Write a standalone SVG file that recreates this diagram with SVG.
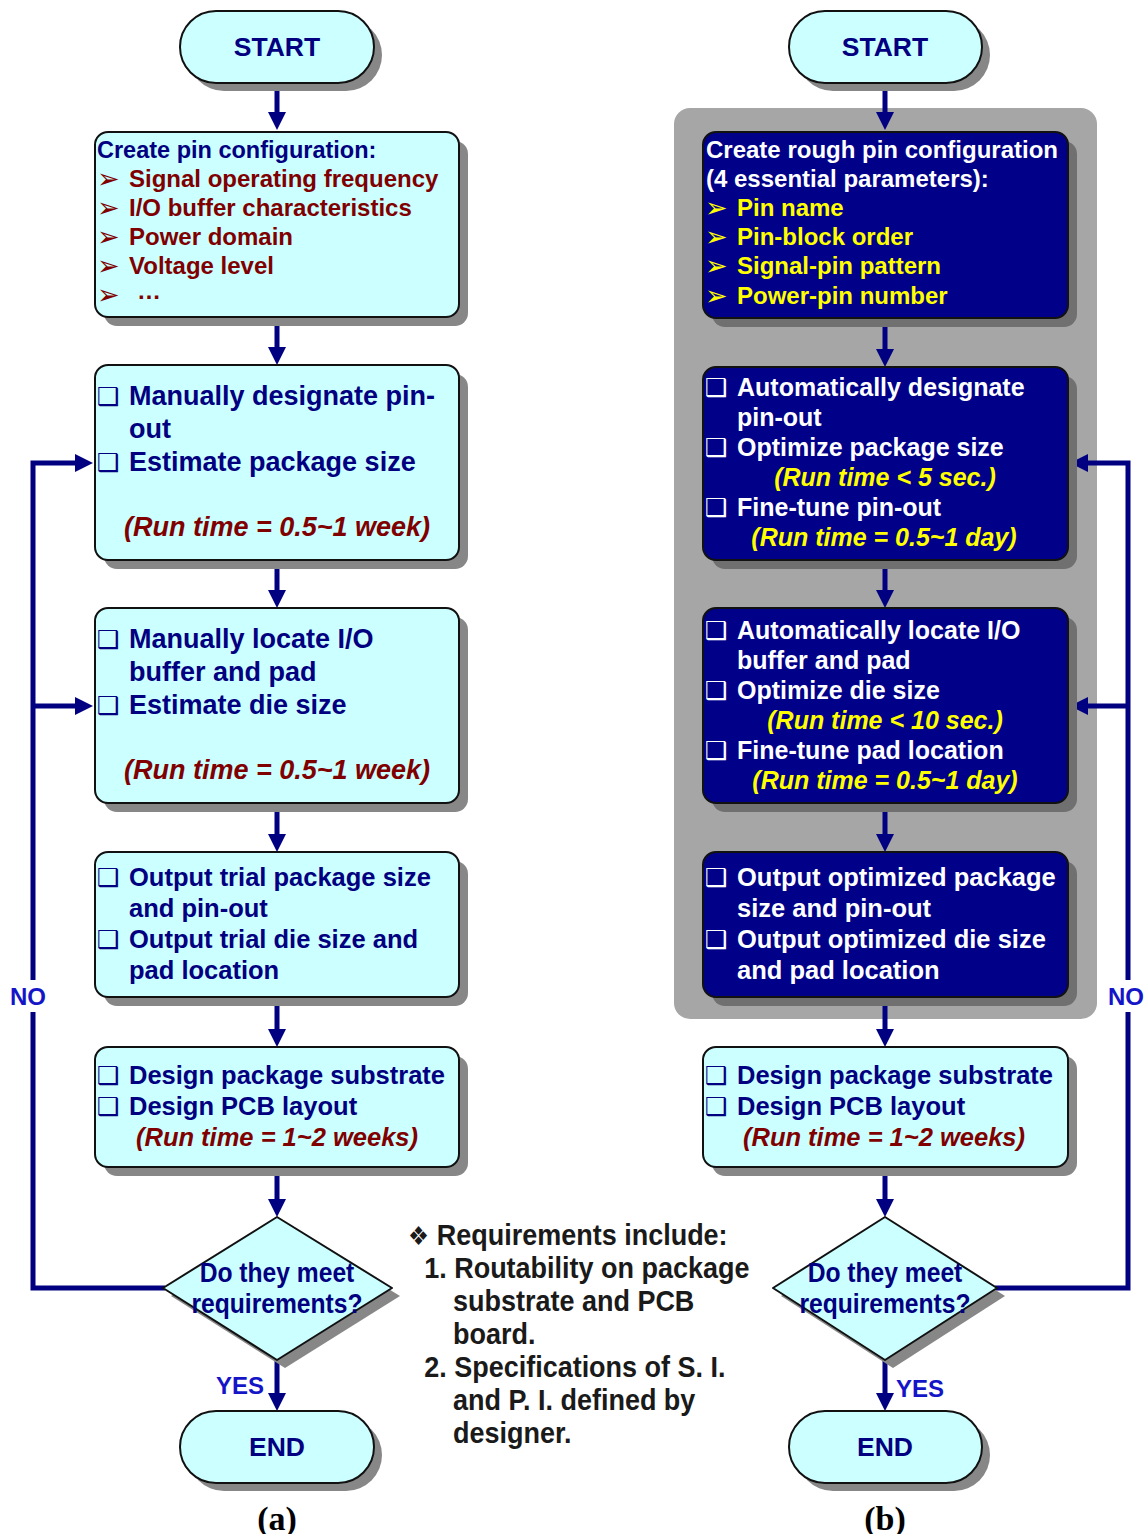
<svg xmlns="http://www.w3.org/2000/svg" width="1144" height="1534" viewBox="0 0 1144 1534">
<style>
.lb{fill:#ccffff;stroke:#111;stroke-width:2}
.db{fill:#000088;stroke:#111;stroke-width:2}
.sh{fill:#878787}
.shd{fill:#707070}
.t{font-family:'Liberation Sans',Arial,sans-serif;font-weight:bold}
.nv{fill:#000080}
.rd{fill:#800000}
.it{font-style:italic}
.wh{fill:#ffffff}
.ye{fill:#ffff00}
.sym{font-family:'DejaVu Sans',sans-serif;font-weight:normal}
.cb{font-family:'DejaVu Sans',sans-serif;font-weight:bold}
.cn{stroke:#000080;stroke-width:5;fill:none}
.lbl{fill:#1515c8;font-size:24px}
.rq{fill:#1a1a1a}
</style>
<defs>
<marker id="ah" viewBox="0 0 18 18" refX="6" refY="9" markerWidth="18" markerHeight="18" markerUnits="userSpaceOnUse" orient="auto">
<path d="M0,0 L18,9 L0,18 z" fill="#000080"/>
</marker>
</defs>
<rect width="1144" height="1534" fill="#ffffff"/>

<!-- gray panel -->
<rect id="panel" x="674" y="108" width="423" height="911" rx="16" fill="#a6a6a6"/>

<!-- connectors -->
<g id="connectors">
<line class="cn" x1="277" y1="83" x2="277" y2="118" marker-end="url(#ah)"/>
<line class="cn" x1="277" y1="317" x2="277" y2="353" marker-end="url(#ah)"/>
<line class="cn" x1="277" y1="560" x2="277" y2="596" marker-end="url(#ah)"/>
<line class="cn" x1="277" y1="803" x2="277" y2="840" marker-end="url(#ah)"/>
<line class="cn" x1="277" y1="997" x2="277" y2="1035" marker-end="url(#ah)"/>
<line class="cn" x1="277" y1="1167" x2="277" y2="1205" marker-end="url(#ah)"/>
<line class="cn" x1="277" y1="1360" x2="277" y2="1399" marker-end="url(#ah)"/>
<line class="cn" x1="885" y1="83" x2="885" y2="118" marker-end="url(#ah)"/>
<line class="cn" x1="885" y1="318" x2="885" y2="355" marker-end="url(#ah)"/>
<line class="cn" x1="885" y1="560" x2="885" y2="596" marker-end="url(#ah)"/>
<line class="cn" x1="885" y1="803" x2="885" y2="840" marker-end="url(#ah)"/>
<line class="cn" x1="885" y1="997" x2="885" y2="1035" marker-end="url(#ah)"/>
<line class="cn" x1="885" y1="1167" x2="885" y2="1205" marker-end="url(#ah)"/>
<line class="cn" x1="885" y1="1360" x2="885" y2="1399" marker-end="url(#ah)"/>
<path class="cn" d="M165,1288 H33 V1012"/>
<path class="cn" d="M33,980 V463 H81" marker-end="url(#ah)"/>
<path class="cn" d="M33,706 H81" marker-end="url(#ah)"/>
<path class="cn" d="M995,1288 H1128 V1012"/>
<path class="cn" d="M1128,980 V463 H1082" marker-end="url(#ah)"/>
<path class="cn" d="M1128,706 H1082" marker-end="url(#ah)"/>
<text class="t lbl" x="28" y="1005" text-anchor="middle">NO</text>
<text class="t lbl" x="1126" y="1005" text-anchor="middle">NO</text>
<text class="t lbl" x="240" y="1394" text-anchor="middle">YES</text>
<text class="t lbl" x="920" y="1397" text-anchor="middle">YES</text>
</g>

<!-- LEFT COLUMN -->
<g id="startA">
<rect class="sh" x="188" y="19" width="194" height="72" rx="36"/>
<rect class="lb" x="180" y="11" width="194" height="72" rx="36"/>
<text class="t nv" x="277" y="56" font-size="26.5" text-anchor="middle">START</text>
</g>

<g id="a1">
<rect class="sh" x="104" y="141" width="364" height="185" rx="13"/>
<rect class="lb" x="95" y="132" width="364" height="185" rx="13"/>
<text class="t nv" x="97" y="158" font-size="23.5">Create pin configuration:</text>
<g class="sym rd" font-size="27">
<text x="97" y="188">➢</text><text x="97" y="217">➢</text><text x="97" y="246">➢</text><text x="97" y="275">➢</text><text x="97" y="304">➢</text>
</g>
<g class="t rd" font-size="24">
<text x="129" y="187">Signal operating frequency</text>
<text x="129" y="216">I/O buffer characteristics</text>
<text x="129" y="245">Power domain</text>
<text x="129" y="274">Voltage level</text>
<text x="137" y="299">…</text>
</g>
</g>

<g id="a2">
<rect class="sh" x="104" y="374" width="364" height="195" rx="13"/>
<rect class="lb" x="95" y="365" width="364" height="195" rx="13"/>
<g class="cb nv" font-size="25"><text x="97" y="405">❑</text><text x="97" y="471">❑</text></g>
<g class="t nv" font-size="27">
<text x="129" y="405">Manually designate pin-</text>
<text x="129" y="438">out</text>
<text x="129" y="471">Estimate package size</text>
</g>
<text class="t rd it" x="277" y="536" font-size="27" text-anchor="middle">(Run time = 0.5~1 week)</text>
</g>

<g id="a3">
<rect class="sh" x="104" y="617" width="364" height="195" rx="13"/>
<rect class="lb" x="95" y="608" width="364" height="195" rx="13"/>
<g class="cb nv" font-size="25"><text x="97" y="648">❑</text><text x="97" y="714">❑</text></g>
<g class="t nv" font-size="27">
<text x="129" y="648">Manually locate I/O</text>
<text x="129" y="681">buffer and pad</text>
<text x="129" y="714">Estimate die size</text>
</g>
<text class="t rd it" x="277" y="779" font-size="27" text-anchor="middle">(Run time = 0.5~1 week)</text>
</g>

<g id="a4">
<rect class="sh" x="104" y="861" width="364" height="145" rx="13"/>
<rect class="lb" x="95" y="852" width="364" height="145" rx="13"/>
<g class="cb nv" font-size="25"><text x="97" y="886">❑</text><text x="97" y="948">❑</text></g>
<g class="t nv" font-size="25.5">
<text x="129" y="886">Output trial package size</text>
<text x="129" y="917">and pin-out</text>
<text x="129" y="948">Output trial die size and</text>
<text x="129" y="979">pad location</text>
</g>
</g>

<g id="a5">
<rect class="sh" x="104" y="1056" width="364" height="120" rx="13"/>
<rect class="lb" x="95" y="1047" width="364" height="120" rx="13"/>
<g class="cb nv" font-size="25"><text x="97" y="1084">❑</text><text x="97" y="1115">❑</text></g>
<g class="t nv" font-size="25.5">
<text x="129" y="1084">Design package substrate</text>
<text x="129" y="1115">Design PCB layout</text>
</g>
<text class="t rd it" x="277" y="1146" font-size="25.5" text-anchor="middle">(Run time = 1~2 weeks)</text>
</g>

<g id="a6">
<polygon class="sh" points="285,1225 400,1296 285,1368 171,1296"/>
<polygon class="lb" points="277,1217 392,1288 277,1360 163,1288" stroke-linejoin="round"/>
<g transform="translate(277,0) scale(0.88,1)">
<text class="t nv" x="0" y="1282" font-size="28" text-anchor="middle">Do they meet</text>
<text class="t nv" x="0" y="1313" font-size="28" text-anchor="middle">requirements?</text>
</g>
</g>

<g id="endA">
<rect class="sh" x="188" y="1419" width="194" height="72" rx="36"/>
<rect class="lb" x="180" y="1411" width="194" height="72" rx="36"/>
<text class="t nv" x="277" y="1456" font-size="26.5" text-anchor="middle">END</text>
</g>

<text x="277" y="1530" font-family="'Liberation Serif','Times New Roman',serif" font-weight="bold" font-size="34" text-anchor="middle" fill="#000">(a)</text>

<!-- RIGHT COLUMN -->
<g id="startB">
<rect class="sh" x="797" y="19" width="193" height="72" rx="36"/>
<rect class="lb" x="789" y="11" width="193" height="72" rx="36"/>
<text class="t nv" x="885" y="56" font-size="26.5" text-anchor="middle">START</text>
</g>

<g id="b1">
<rect class="shd" x="712" y="141" width="365" height="186" rx="13"/>
<rect class="db" x="703" y="132" width="365" height="186" rx="13"/>
<g class="t wh" font-size="24">
<text x="706" y="158">Create rough pin configuration</text>
<text x="706" y="187">(4 essential parameters):</text>
</g>
<g class="sym ye" font-size="27">
<text x="705" y="217">➢</text><text x="705" y="246">➢</text><text x="705" y="275">➢</text><text x="705" y="305">➢</text>
</g>
<g class="t ye" font-size="24">
<text x="737" y="216">Pin name</text>
<text x="737" y="245">Pin-block order</text>
<text x="737" y="274">Signal-pin pattern</text>
<text x="737" y="304">Power-pin number</text>
</g>
</g>

<g id="b2">
<rect class="shd" x="712" y="376" width="365" height="193" rx="13"/>
<rect class="db" x="703" y="367" width="365" height="193" rx="13"/>
<g class="cb wh" font-size="25"><text x="705" y="396">❑</text><text x="705" y="456">❑</text><text x="705" y="516">❑</text></g>
<g class="t wh" font-size="25">
<text x="737" y="396">Automatically designate</text>
<text x="737" y="426">pin-out</text>
<text x="737" y="456">Optimize package size</text>
<text x="737" y="516">Fine-tune pin-out</text>
</g>
<g class="t ye it" font-size="25" text-anchor="middle">
<text x="885" y="486">(Run time &lt; 5 sec.)</text>
<text x="884" y="546">(Run time = 0.5~1 day)</text>
</g>
</g>

<g id="b3">
<rect class="shd" x="712" y="617" width="365" height="195" rx="13"/>
<rect class="db" x="703" y="608" width="365" height="195" rx="13"/>
<g class="cb wh" font-size="25"><text x="705" y="639">❑</text><text x="705" y="699">❑</text><text x="705" y="759">❑</text></g>
<g class="t wh" font-size="25">
<text x="737" y="639">Automatically locate I/O</text>
<text x="737" y="669">buffer and pad</text>
<text x="737" y="699">Optimize die size</text>
<text x="737" y="759">Fine-tune pad location</text>
</g>
<g class="t ye it" font-size="25" text-anchor="middle">
<text x="885" y="729">(Run time &lt; 10 sec.)</text>
<text x="885" y="789">(Run time = 0.5~1 day)</text>
</g>
</g>

<g id="b4">
<rect class="shd" x="712" y="861" width="365" height="145" rx="13"/>
<rect class="db" x="703" y="852" width="365" height="145" rx="13"/>
<g class="cb wh" font-size="25"><text x="705" y="886">❑</text><text x="705" y="948">❑</text></g>
<g class="t wh" font-size="25.5">
<text x="737" y="886">Output optimized package</text>
<text x="737" y="917">size and pin-out</text>
<text x="737" y="948">Output optimized die size</text>
<text x="737" y="979">and pad location</text>
</g>
</g>

<g id="b5">
<rect class="sh" x="712" y="1056" width="365" height="120" rx="13"/>
<rect class="lb" x="703" y="1047" width="365" height="120" rx="13"/>
<g class="cb nv" font-size="25"><text x="705" y="1084">❑</text><text x="705" y="1115">❑</text></g>
<g class="t nv" font-size="25.5">
<text x="737" y="1084">Design package substrate</text>
<text x="737" y="1115">Design PCB layout</text>
</g>
<text class="t rd it" x="884" y="1146" font-size="25.5" text-anchor="middle">(Run time = 1~2 weeks)</text>
</g>

<g id="b6">
<polygon class="sh" points="893,1225 1005,1296 893,1368 781,1296"/>
<polygon class="lb" points="885,1217 997,1288 885,1360 773,1288" stroke-linejoin="round"/>
<g transform="translate(885,0) scale(0.88,1)">
<text class="t nv" x="0" y="1282" font-size="28" text-anchor="middle">Do they meet</text>
<text class="t nv" x="0" y="1313" font-size="28" text-anchor="middle">requirements?</text>
</g>
</g>

<g id="endB">
<rect class="sh" x="797" y="1419" width="193" height="72" rx="36"/>
<rect class="lb" x="789" y="1411" width="193" height="72" rx="36"/>
<text class="t nv" x="885" y="1456" font-size="26.5" text-anchor="middle">END</text>
</g>

<text x="885" y="1530" font-family="'Liberation Serif','Times New Roman',serif" font-weight="bold" font-size="34" text-anchor="middle" fill="#000">(b)</text>

<!-- requirements note -->
<g id="note" transform="translate(408,0) scale(0.9,1)">
<text class="sym rq" x="0" y="1245" font-size="26">❖</text>
<g class="t rq" font-size="30">
<text x="32" y="1245">Requirements include:</text>
<text x="18" y="1278">1. Routability on package</text>
<text x="50" y="1311">substrate and PCB</text>
<text x="50" y="1344">board.</text>
<text x="18" y="1377">2. Specifications of S. I.</text>
<text x="50" y="1410">and P. I. defined by</text>
<text x="50" y="1443">designer.</text>
</g>
</g>
</svg>
